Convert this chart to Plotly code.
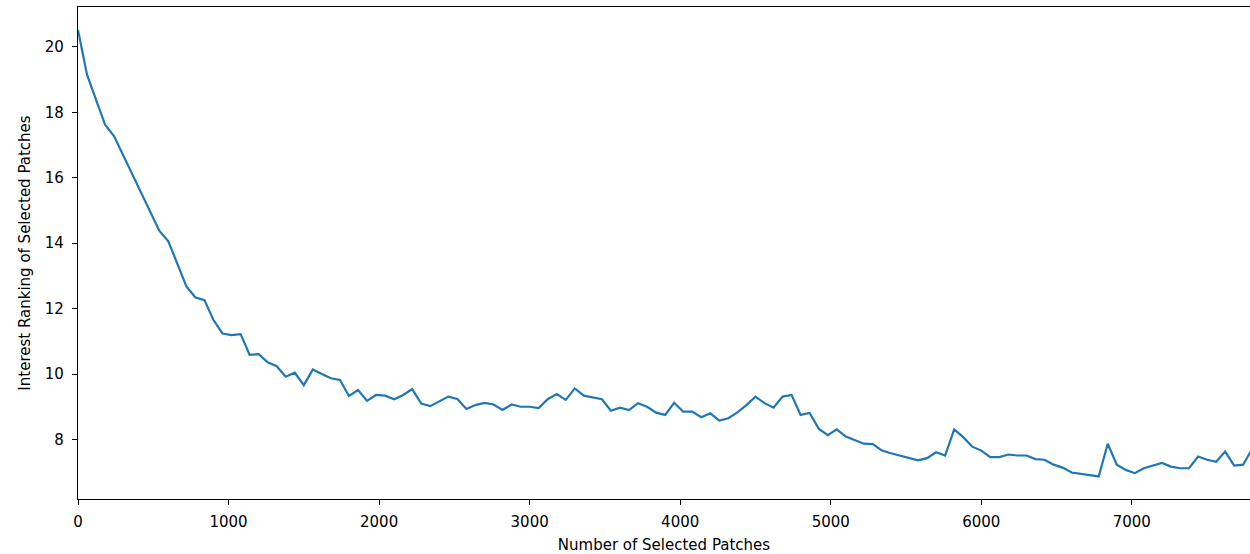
import plotly.graph_objects as go

# Data (x step of 60 patches)
num_patches = [i * 60 for i in range(131)]
interest_ranking = [
    20.52, 19.15, 18.38, 17.62, 17.27, 16.70, 16.10, 15.53, 14.95, 14.38,
    14.06, 13.35, 12.68, 12.34, 12.26, 11.65, 11.24, 11.19, 11.22, 10.59,
    10.61, 10.36, 10.24, 9.92, 10.04, 9.66, 10.14, 10.00, 9.87, 9.82,
    9.33, 9.51, 9.18, 9.36, 9.34, 9.23, 9.36, 9.54, 9.10, 9.02,
    9.16, 9.31, 9.24, 8.93, 9.05, 9.12, 9.07, 8.90, 9.07, 9.00,
    9.00, 8.96, 9.23, 9.39, 9.21, 9.56, 9.34, 9.29, 9.23, 8.88,
    8.97, 8.90, 9.11, 9.00, 8.82, 8.75, 9.12, 8.85, 8.85, 8.68,
    8.80, 8.58, 8.65, 8.83, 9.05, 9.31, 9.11, 8.97, 9.31, 9.36,
    8.75, 8.81, 8.33, 8.13, 8.31, 8.09, 7.97, 7.87, 7.86, 7.66,
    7.58, 7.51, 7.43, 7.36, 7.43, 7.61, 7.51, 8.31, 8.07, 7.78,
    7.66, 7.46, 7.46, 7.54, 7.51, 7.51, 7.40, 7.38, 7.23, 7.14,
    6.99, 6.95, 6.91, 6.87, 7.87, 7.23, 7.07, 6.97, 7.12, 7.20,
    7.28, 7.17, 7.12, 7.12, 7.48, 7.38, 7.32, 7.63, 7.20, 7.23,
    7.72,
]
x_ticks = [0, 1000, 2000, 3000, 4000, 5000, 6000, 7000]
y_ticks = [8, 10, 12, 14, 16, 18, 20]

fig = go.Figure()
fig.add_trace(go.Scatter(
    x=num_patches, y=interest_ranking, mode="lines",
    line=dict(color="#1f77b4", width=2.2),
    showlegend=False, hoverinfo="x+y",
))

font = dict(family="DejaVu Sans", size=15, color="black")
axis_common = dict(
    showline=True, linecolor="black", linewidth=1.2, mirror=True,
    ticks="outside", ticklen=5, tickwidth=1, tickcolor="black",
    showgrid=False, zeroline=False, tickfont=font,
)
fig.update_layout(
    width=1250, height=554,
    margin=dict(l=78, r=0, t=7, b=55),
    paper_bgcolor="white", plot_bgcolor="white",
    font=font,
    xaxis=dict(range=[0, 7785], tickvals=x_ticks, ticklabelstandoff=4,
               title=dict(text="Number of Selected Patches", font=font, standoff=9),
               **axis_common),
    yaxis=dict(range=[6.18, 21.22], tickvals=y_ticks, ticklabelstandoff=5,
               title=dict(text="Interest Ranking of Selected Patches", font=font, standoff=10),
               **axis_common),
)
fig.write_html(
    "out.html",
    config={"displayModeBar": False},
    post_script=(
        "document.body.style.margin='0';"
        "document.body.style.overflow='hidden';"
        "document.documentElement.style.overflow='hidden';"
    ),
)
